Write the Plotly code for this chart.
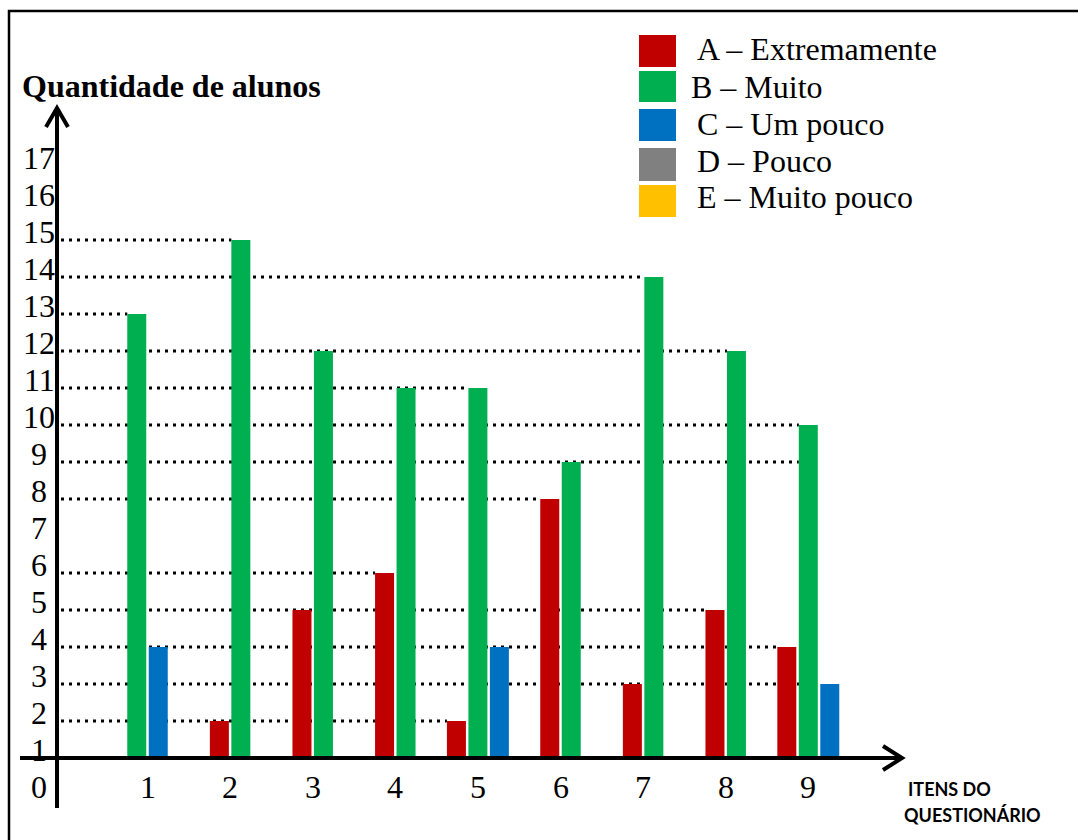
import plotly.graph_objects as go

# ---- data -------------------------------------------------------------
items = [1, 2, 3, 4, 5, 6, 7, 8, 9]
series_names = ["A – Extremamente", "B – Muito", "C – Um pouco", "D – Pouco", "E – Muito pouco"]
series_colors = ["#C00000", "#00B050", "#0070C0", "#808080", "#FFC000"]
a_vals = [None, 2, 5, 6, 2, 8, 3, 5, 4]
b_vals = [13, 15, 12, 11, 11, 9, 14, 12, 10]
c_vals = [4, None, None, None, 4, None, None, None, 3]
d_vals = [None, None, None, None, None, None, None, None, None]
e_vals = [None, None, None, None, None, None, None, None, None]
y_tick_labels = [0, 1, 2, 3, 4, 5, 6, 7, 8, 9, 10, 11, 12, 13, 14, 15, 16, 17]
y_title = "Quantidade de alunos"
x_title_lines = ["ITENS DO", "QUESTIONÁRIO"]

series_vals = [a_vals, b_vals, c_vals, d_vals, e_vals]

# ---- canvas / scale setup --------------------------------------------
W, H = 1078, 840
X0_PX, X_STEP = 147.5, 82.6      # pixel of item 1 and pixels per item
Y1_PX, Y_STEP = 758.0, 37.0      # pixel of the baseline (value 1) and pixels per unit
BASE = 1                          # bars rise from the baseline drawn at 1

x_range = [1 - X0_PX / X_STEP, 1 + (W - X0_PX) / X_STEP]
y_range = [BASE - (H - Y1_PX) / Y_STEP, BASE + Y1_PX / Y_STEP]


def px_x(p):
    return 1 + (p - X0_PX) / X_STEP


def px_y(p):
    return BASE + (Y1_PX - p) / Y_STEP


def paper_x(p):
    return p / W


def paper_y(p):
    return 1 - p / H


BAR_W = 0.23
GAP = 0.03
SERIF = "Liberation Serif"
INK = "#000000"
FS = 32

# the bars that exist for an item are packed side by side, centred on its tick
bar_offsets = [[None] * len(items) for _ in series_vals]
for k, _ in enumerate(items):
    present = [s for s, vals in enumerate(series_vals) if vals[k] is not None]
    start = -len(present) * (BAR_W + GAP) / 2 + GAP / 2
    for j, s in enumerate(present):
        bar_offsets[s][k] = start + j * (BAR_W + GAP)

fig = go.Figure()

for name, color, vals, offs in zip(series_names, series_colors, series_vals, bar_offsets):
    keep = [k for k, v in enumerate(vals) if v is not None]
    if not keep:
        continue
    fig.add_trace(go.Bar(
        x=[items[k] for k in keep],
        y=[vals[k] - BASE for k in keep],
        base=BASE, name=name,
        width=BAR_W, offset=[offs[k] for k in keep],
        marker=dict(color=color, line=dict(width=0)),
        showlegend=False,
        customdata=[vals[k] for k in keep],
        hovertemplate="Item %{x}: %{customdata}<extra>" + name + "</extra>",
    ))

shapes = []

# dotted guide lines: from the vertical axis to the farthest bar of that height
reach = {}
for vals, offs in zip(series_vals, bar_offsets):
    for k, v in enumerate(vals):
        if v is None:
            continue
        edge = items[k] + offs[k]
        reach[v] = max(reach.get(v, edge), edge)
# the guide at 9 is carried on as far as the "Muito" bar of the last item
reach[9] = items[-1] + bar_offsets[1][-1]
for v, edge in sorted(reach.items()):
    shapes.append(dict(
        type="line", xref="x", yref="y", layer="below",
        x0=px_x(61), x1=edge, y0=v, y1=v,
        line=dict(color=INK, width=3, dash="3px,5px"),
    ))

# outer frame
shapes.append(dict(
    type="path", xref="paper", yref="paper",
    path=f"M {paper_x(9)},{paper_y(842)} L {paper_x(9)},{paper_y(11)} L {paper_x(1080)},{paper_y(11)}",
    line=dict(color=INK, width=2.5),
))

# axes with arrow heads
shapes.append(dict(type="line", xref="x", yref="y",
                   x0=px_x(57), x1=px_x(57), y0=px_y(808), y1=px_y(109),
                   line=dict(color=INK, width=4)))
shapes.append(dict(type="path", xref="paper", yref="paper",
                   path=f"M {paper_x(46)},{paper_y(127)} L {paper_x(57)},{paper_y(108)} L {paper_x(68)},{paper_y(127)}",
                   line=dict(color=INK, width=4)))
shapes.append(dict(type="line", xref="x", yref="y",
                   x0=px_x(20), x1=px_x(901), y0=BASE, y1=BASE,
                   line=dict(color=INK, width=4)))
shapes.append(dict(type="path", xref="paper", yref="paper",
                   path=f"M {paper_x(883)},{paper_y(746)} L {paper_x(902)},{paper_y(758)} L {paper_x(883)},{paper_y(770)}",
                   line=dict(color=INK, width=4)))

annotations = []

# y tick labels
for v in y_tick_labels:
    annotations.append(dict(
        x=paper_x(39), xref="paper", y=v + 0.22, yref="y",
        text=str(v), showarrow=False, xanchor="center", yanchor="middle",
        font=dict(family=SERIF, size=FS, color=INK),
    ))

# x tick labels
for i in items:
    annotations.append(dict(
        x=i, xref="x", y=paper_y(787), yref="paper",
        text=str(i), showarrow=False, xanchor="center", yanchor="middle",
        font=dict(family=SERIF, size=FS, color=INK),
    ))

# axis titles
annotations.append(dict(
    x=paper_x(20), xref="paper", y=paper_y(86), yref="paper",
    text=f"<b>{y_title}</b>", showarrow=False, xanchor="left", yanchor="middle",
    font=dict(family=SERIF, size=FS, color=INK),
))
for line, (lx, ly) in zip(x_title_lines, [(906, 789), (902, 815)]):
    annotations.append(dict(
        x=paper_x(lx), xref="paper", y=paper_y(ly), yref="paper",
        text=f"<b>{line}</b>", showarrow=False, xanchor="left", yanchor="middle",
        font=dict(family="Lato", size=18, color=INK),
    ))

# legend: colour squares with labels
legend_rows = [(35, 67, 695, 49), (71, 102, 689, 87), (109, 141, 695, 124),
               (148, 181, 695, 161), (185, 217, 695, 197)]
for name, color, (top, bottom, tx, ty) in zip(series_names, series_colors, legend_rows):
    shapes.append(dict(
        type="rect", xref="paper", yref="paper",
        x0=paper_x(639), x1=paper_x(676), y0=paper_y(bottom), y1=paper_y(top),
        fillcolor=color, line=dict(width=0),
    ))
    annotations.append(dict(
        x=paper_x(tx), xref="paper", y=paper_y(ty), yref="paper",
        text=name, showarrow=False, xanchor="left", yanchor="middle",
        font=dict(family=SERIF, size=FS, color=INK),
    ))

fig.update_layout(
    width=W, height=H,
    margin=dict(l=0, r=0, t=0, b=0, pad=0),
    paper_bgcolor="white", plot_bgcolor="white",
    barmode="overlay",
    xaxis=dict(range=x_range, visible=False, fixedrange=True),
    yaxis=dict(range=y_range, visible=False, fixedrange=True),
    shapes=shapes,
    annotations=annotations,
    showlegend=False,
)

fig.write_html("out.html")
